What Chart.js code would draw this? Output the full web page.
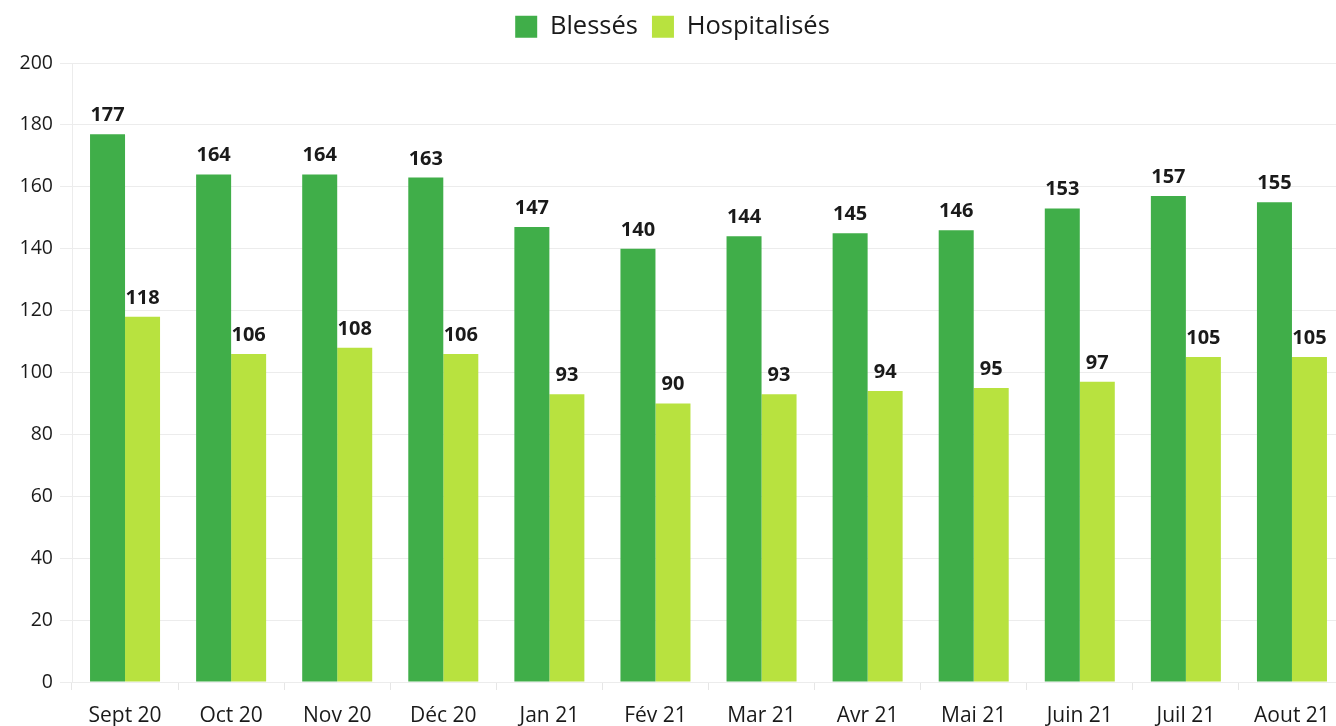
<!DOCTYPE html>
<html><head><meta charset="utf-8">
<script src="https://cdn.jsdelivr.net/npm/chart.js@4/dist/chart.umd.min.js"></script>
<style>
html,body{margin:0;padding:0;overflow:hidden;background:#fff;}
#wrap{width:1345px;height:726px;position:relative;}
</style></head>
<body>
<div id="wrap"><canvas id="c"></canvas></div>
<script>
const categories = ["Sept 20","Oct 20","Nov 20","Déc 20","Jan 21","Fév 21","Mar 21","Avr 21","Mai 21","Juin 21","Juil 21","Aout 21"];
const blesses = [177,164,164,163,147,140,144,145,146,153,157,155];
const hospitalises = [118,106,108,106,93,90,93,94,95,97,105,105];
const yTicks = [0,20,40,60,80,100,120,140,160,180,200];

const FONT = "'Open Sans', Lato, sans-serif";

const valueLabels = {
  id: 'valueLabels',
  afterDatasetsDraw(chart) {
    const ctx = chart.ctx;
    ctx.save();
    ctx.font = "bold 20px " + FONT;
    ctx.fillStyle = "#1a1a1a";
    ctx.textAlign = "center";
    ctx.textBaseline = "alphabetic";
    chart.data.datasets.forEach((ds, i) => {
      const meta = chart.getDatasetMeta(i);
      meta.data.forEach((bar, j) => {
        ctx.fillText(String(ds.data[j]), bar.x, bar.y - 13);
      });
    });
    ctx.restore();
  }
};

const legendSpace = {
  id: 'legendSpace',
  beforeInit(chart) {
    const orig = chart.legend.fit;
    chart.legend.fit = function () {
      orig.call(this);
      this.height = 63;
    };
  }
};

new Chart(document.getElementById('c'), {
  type: 'bar',
  data: {
    labels: categories,
    datasets: [
      { label: 'Blessés', data: blesses, backgroundColor: '#40ae49' },
      { label: 'Hospitalisés', data: hospitalises, backgroundColor: '#b8e23f' }
    ]
  },
  options: {
    responsive: true,
    maintainAspectRatio: false,
    animation: false,
    layout: { padding: 0 },
    datasets: { bar: { categoryPercentage: 0.66, barPercentage: 1.0 } },
    plugins: {
      legend: {
        position: 'top',
        labels: {
          font: { family: FONT, size: 25.5 },
          color: '#1a1a1a',
          boxWidth: 22, boxHeight: 22,
          padding: 14
        }
      },
      tooltip: { enabled: false }
    },
    scales: {
      x: {
        grid: { display: true, drawOnChartArea: false, drawTicks: true, tickLength: 8, color: '#e6e6e6', offset: true },
        border: { display: false },
        ticks: { font: { family: FONT, size: 21 }, color: '#1a1a1a', padding: 13 },
        afterFit(s) { s.height = 44; }
      },
      y: {
        min: 0, max: 200,
        afterBuildTicks(s) { s.ticks = yTicks.map(v => ({ value: v })); },
        grid: { color: '#ececec', tickLength: 12 },
        border: { display: true, color: '#ececec' },
        ticks: { font: { family: FONT, size: 19.5 }, color: '#1a1a1a', padding: 7 },
        afterFit(s) { s.width = 72; }
      }
    }
  },
  plugins: [valueLabels, legendSpace]
});
</script>
</body></html>
